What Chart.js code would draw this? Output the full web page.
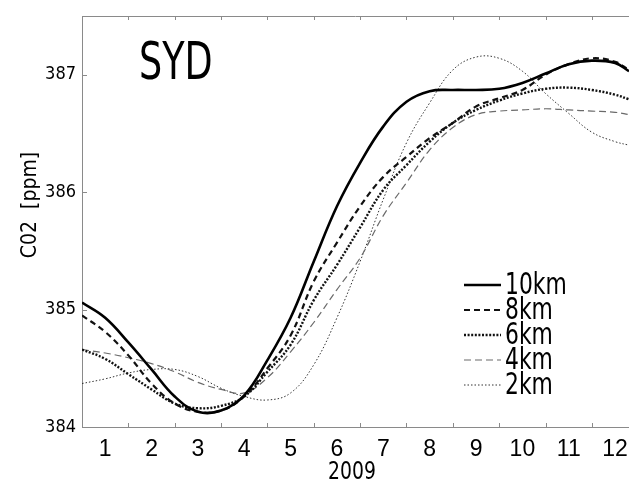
<!DOCTYPE html>
<html>
<head>
<meta charset="utf-8">
<script src="https://cdn.jsdelivr.net/npm/chart.js@4"></script>
<style>
  html, body { margin: 0; padding: 0; background: #fff; overflow: hidden; }
  #wrap { width: 629px; height: 484px; }
</style>
</head>
<body>
<div id="wrap"><canvas id="co2Chart" width="629" height="484"></canvas></div>
<script>
// x positions in months (month m is centred on m)
const xs = [0.5, 1, 1.5, 2, 2.5, 3, 3.5, 4, 4.5, 5, 5.5, 6, 6.5, 7, 7.5, 8, 8.5, 9, 9.5, 10, 10.5, 11, 11.5, 12, 12.3];
const monthLabels = [1, 2, 3, 4, 5, 6, 7, 8, 9, 10, 11, 12];
const monthEdges = [0.5, 1.5, 2.5, 3.5, 4.5, 5.5, 6.5, 7.5, 8.5, 9.5, 10.5, 11.5];
const yTicks = [384, 385, 386, 387];

// CO2 (ppm) per altitude
const co2_10km = [385.06, 384.93, 384.72, 384.49, 384.26, 384.13, 384.14, 384.27, 384.57, 384.93, 385.41, 385.88, 386.25, 386.56, 386.77, 386.86, 386.87, 386.87, 386.88, 386.93, 387.01, 387.09, 387.12, 387.10, 387.03];
const co2_8km  = [384.95, 384.81, 384.61, 384.37, 384.20, 384.13, 384.14, 384.26, 384.50, 384.78, 385.24, 385.57, 385.88, 386.13, 386.30, 386.46, 386.59, 386.73, 386.80, 386.87, 387.00, 387.09, 387.14, 387.11, 387.04];
const co2_6km  = [384.66, 384.58, 384.45, 384.32, 384.20, 384.16, 384.18, 384.26, 384.47, 384.70, 385.08, 385.38, 385.70, 386.02, 386.23, 386.43, 386.59, 386.70, 386.78, 386.84, 386.88, 386.89, 386.87, 386.83, 386.79];
const co2_4km  = [384.66, 384.63, 384.59, 384.54, 384.47, 384.38, 384.32, 384.29, 384.42, 384.64, 384.89, 385.17, 385.44, 385.80, 386.08, 386.36, 386.55, 386.66, 386.69, 386.70, 386.71, 386.70, 386.69, 386.68, 386.66];
const co2_2km  = [384.37, 384.41, 384.46, 384.49, 384.49, 384.43, 384.33, 384.26, 384.23, 384.29, 384.53, 384.93, 385.41, 385.94, 386.42, 386.76, 387.04, 387.15, 387.14, 387.03, 386.84, 386.67, 386.51, 386.43, 386.40];

const NARROW = "'Liberation Sans Narrow', 'DejaVu Sans Condensed', sans-serif";
const AXIS_GREY = '#8a8a8a';

function toPoints(values) {
    return xs.map((x, i) => ({ x: x, y: values[i] }));
}

function makeSet(label, values, color, width, dash) {
    return {
        label: label,
        data: toPoints(values),
        borderColor: color,
        borderWidth: width,
        borderDash: dash,
        pointRadius: 0,
        tension: 0.4,
        fill: false,
    };
}

// draw text squeezed horizontally (the original uses a narrow font)
function narrowText(ctx, text, x, y, squeeze) {
    ctx.save();
    ctx.translate(x, y);
    ctx.scale(squeeze, 1);
    ctx.fillText(text, 0, 0);
    ctx.restore();
}

// frame, inward tick marks and the texts drawn on top
const decorPlugin = {
    id: 'decor',
    afterDraw(chart) {
        const ctx = chart.ctx;
        const area = chart.chartArea;
        const xScale = chart.scales.x;
        const yScale = chart.scales.y;
        ctx.save();
        ctx.strokeStyle = AXIS_GREY;
        ctx.lineWidth = 1;
        ctx.beginPath();
        // top border
        ctx.moveTo(area.left, area.top + 0.5);
        ctx.lineTo(area.right, area.top + 0.5);
        monthEdges.forEach(v => {
            const px = Math.round(xScale.getPixelForValue(v)) + 0.5;
            ctx.moveTo(px, area.bottom);
            ctx.lineTo(px, area.bottom - 4);
            ctx.moveTo(px, area.top);
            ctx.lineTo(px, area.top + 4);
        });
        yTicks.forEach(v => {
            const py = Math.round(yScale.getPixelForValue(v)) + 0.5;
            ctx.moveTo(area.left, py);
            ctx.lineTo(area.left + 5, py);
        });
        ctx.stroke();

        ctx.fillStyle = '#000';
        // station name
        ctx.font = '52px ' + NARROW;
        ctx.textAlign = 'left';
        ctx.textBaseline = 'alphabetic';
        narrowText(ctx, 'SYD', 139, 79, 0.78);

        // x axis title
        ctx.font = '24px ' + NARROW;
        ctx.textAlign = 'center';
        ctx.textBaseline = 'middle';
        narrowText(ctx, '2009', 352, 473, 0.87);

        // y axis title
        ctx.save();
        ctx.translate(31, 205);
        ctx.rotate(-Math.PI / 2);
        ctx.font = '21px ' + NARROW;
        ctx.fillText('C02  [ppm]', 0, 0);
        ctx.restore();

        // legend
        ctx.font = '30px ' + NARROW;
        ctx.textAlign = 'left';
        ctx.textBaseline = 'middle';
        chart.data.datasets.forEach((ds, i) => {
            const y = 285 + i * 25;
            ctx.save();
            ctx.strokeStyle = ds.borderColor;
            ctx.lineWidth = ds.borderWidth;
            ctx.setLineDash(ds.borderDash);
            ctx.beginPath();
            ctx.moveTo(464, y);
            ctx.lineTo(501, y);
            ctx.stroke();
            ctx.restore();
            narrowText(ctx, ds.label, 505, y + 1, 0.81);
        });
        ctx.restore();
    }
};

const ctx = document.getElementById('co2Chart').getContext('2d');
const co2Chart = new Chart(ctx, {
    type: 'line',
    data: {
        datasets: [
            makeSet('10km', co2_10km, '#000000', 2.6, []),
            makeSet('8km', co2_8km, '#111111', 2.2, [6, 4]),
            makeSet('6km', co2_6km, '#111111', 2.4, [2, 1.6]),
            makeSet('4km', co2_4km, '#6a6a6a', 1.2, [7, 4]),
            makeSet('2km', co2_2km, '#333333', 1, [1.5, 2]),
        ],
    },
    options: {
        responsive: false,
        animation: false,
        devicePixelRatio: 1,
        layout: { padding: { top: 16, right: 0, bottom: 0, left: 0 } },
        plugins: {
            legend: { display: false },
            tooltip: { enabled: false },
        },
        scales: {
            x: {
                type: 'linear',
                min: 0.5,
                max: 12.3,
                grid: { display: false, drawTicks: false },
                border: { display: true, color: AXIS_GREY, width: 1 },
                afterBuildTicks: (scale) => {
                    scale.ticks = monthLabels.map(v => ({ value: v }));
                },
                afterFit: (scale) => {
                    scale.height = 57;
                    scale.paddingLeft = 0;
                    scale.paddingRight = 0;
                },
                ticks: {
                    autoSkip: false,
                    maxRotation: 0,
                    padding: 9,
                    color: '#000',
                    font: { family: "'Liberation Sans', Arial, sans-serif", size: 23 },
                    callback: (v) => String(v),
                },
            },
            y: {
                type: 'linear',
                min: 384,
                max: 387.5,
                grid: { display: false, drawTicks: false },
                border: { display: true, color: AXIS_GREY, width: 1 },
                afterBuildTicks: (scale) => {
                    scale.ticks = yTicks.map(v => ({ value: v }));
                },
                afterFit: (scale) => {
                    scale.width = 82;
                    scale.paddingTop = 0;
                    scale.paddingBottom = 0;
                },
                ticks: {
                    padding: 6,
                    color: '#000',
                    font: { family: NARROW, size: 18 },
                    callback: (v) => String(v),
                },
            },
        },
    },
    plugins: [decorPlugin],
});
</script>
</body>
</html>
